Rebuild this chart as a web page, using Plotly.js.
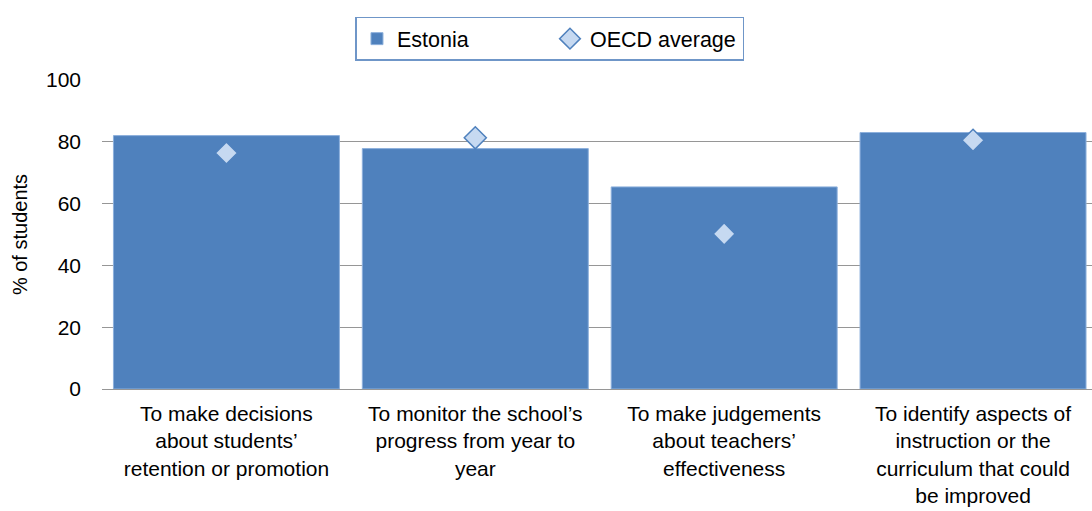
<!DOCTYPE html>
<html>
<head>
<meta charset="utf-8">
<script src="https://cdn.plot.ly/plotly-3.0.1.min.js"></script>
<style>
  html, body { margin: 0; padding: 0; background: #fff; }
  #chart { width: 1092px; height: 511px; }
</style>
</head>
<body>
<div id="chart"></div>
<script>
const categories = [
  "To make decisions<br>about students’<br>retention or promotion",
  "To monitor the school’s<br>progress from year to<br>year",
  "To make judgements<br>about teachers’<br>effectiveness",
  "To identify aspects of<br>instruction or the<br>curriculum that could<br>be improved"
];
const estonia = [82.0, 77.8, 65.4, 83.0];
const oecdAverage = [76.4, 81.3, 50.2, 80.5];
const yTicks = [0, 20, 40, 60, 80, 100];

const font = "Liberation Sans, Arial, sans-serif";

const traces = [
  {
    type: "bar",
    name: "Estonia",
    x: categories,
    y: estonia,
    marker: { color: "#4F81BD", line: { color: "#8DB0DC", width: 1 } },
    hoverinfo: "y"
  },
  {
    type: "scatter",
    mode: "markers",
    name: "OECD average",
    x: categories,
    y: oecdAverage,
    marker: { symbol: "diamond", size: 17, color: "#C6D9F1", line: { color: "#4F81BD", width: 1.5 } },
    hoverinfo: "y"
  }
];

const layout = {
  width: 1092,
  height: 511,
  margin: { l: 102, r: 0, t: 80, b: 122 },
  paper_bgcolor: "#fff",
  plot_bgcolor: "#fff",
  font: { family: font, size: 19, color: "#000" },
  bargap: 0.092,
  showlegend: true,
  legend: {
    orientation: "h",
    x: 0.4525, xanchor: "center",
    y: 1.205, yanchor: "top",
    bordercolor: "#6F96C8",
    borderwidth: 1.5,
    font: { family: font, size: 21.5, color: "#000" },
    itemwidth: 30,
    entrywidth: 148,
    traceorder: "normal"
  },
  xaxis: {
    type: "category",
    range: [-0.5, 3.478],
    showgrid: false,
    showline: false,
    ticks: "",
    ticklabelstandoff: 10,
    tickfont: { family: font, size: 21, color: "#000" },
    automargin: false
  },
  yaxis: {
    range: [0, 100],
    tickvals: yTicks,
    ticktext: yTicks.map(String),
    showgrid: true,
    gridcolor: "#969696",
    gridwidth: 1,
    zeroline: true,
    zerolinecolor: "#969696",
    zerolinewidth: 1,
    showline: false,
    ticks: "",
    ticklabelstandoff: 20,
    tickfont: { family: font, size: 21, color: "#000" },
    title: { text: "% of students", font: { family: font, size: 20, color: "#000" }, standoff: 12 },
    automargin: false
  }
};

Plotly.newPlot("chart", traces, layout, { displayModeBar: false, staticPlot: true });
</script>
</body>
</html>
